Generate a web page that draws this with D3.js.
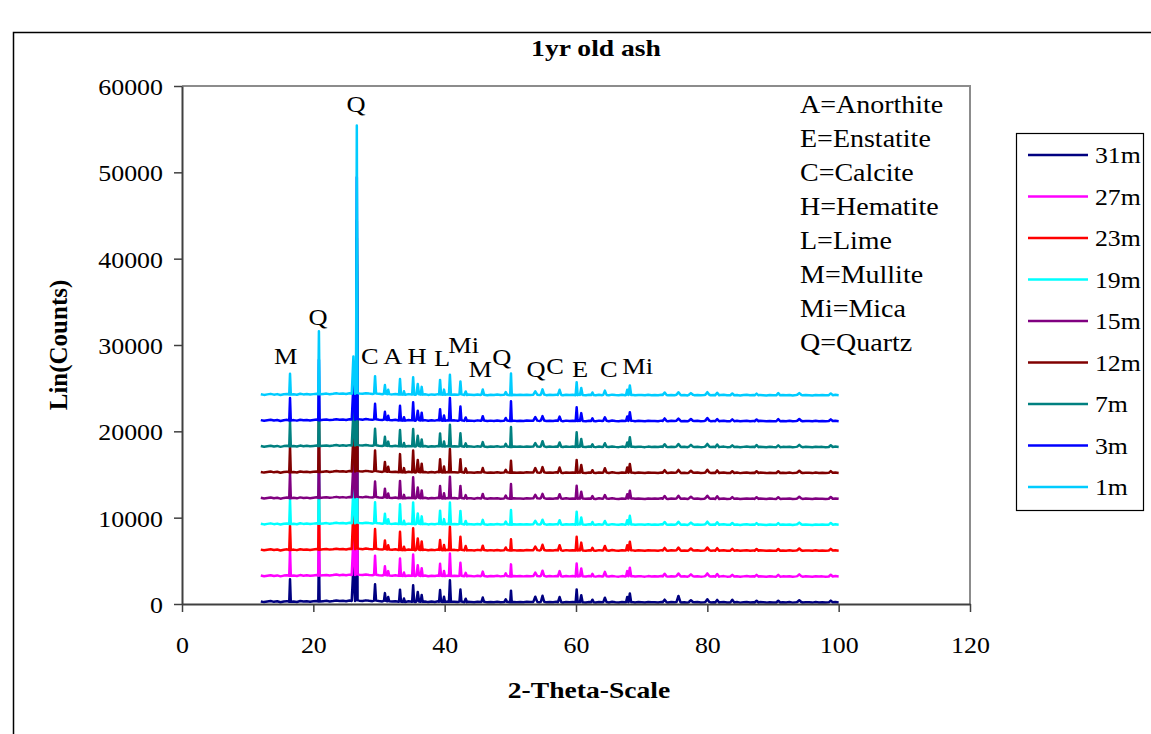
<!DOCTYPE html>
<html><head><meta charset="utf-8">
<script src="https://cdn.jsdelivr.net/npm/d3@7"></script>
<style>
body{margin:0;background:#fff;}
svg{display:block;}
text{font-family:"Liberation Serif","Times New Roman",serif;fill:#000;}
</style>
</head><body>
<svg id="c" width="1151" height="734"></svg>
<script>
// ---------------- DATA ----------------
const chartTitle = "1yr old ash";
const xTitle = "2-Theta-Scale";
const yTitle = "Lin(Counts)";
const xTicks = [0, 20, 40, 60, 80, 100, 120];
const yTicks = [0, 10000, 20000, 30000, 40000, 50000, 60000];

// series, in drawing order (last drawn on top)
const seriesNames = ["31m", "27m", "23m", "19m", "15m", "12m", "7m", "3m", "1m"];
const seriesOffsets = [0, 3000, 6000, 9000, 12000, 15000, 18000, 21000, 24000];

// background counts (above each series' offset), 2-theta 12 .. 100 every 0.5
const baseStart = 12, baseStep = 0.5;
const baseCounts = [
  300,220,280,340,250,310,200,290,330,260,300,240,350,280,320,260,310,360,290,330,
  370,300,350,410,340,380,320,400,360,430,390,350,420,370,330,390,340,300,360,310,
  280,330,260,300,240,310,270,230,290,250,300,220,280,240,310,260,230,290,250,270,
  230,280,210,260,240,200,270,220,250,190,240,210,260,200,230,250,190,240,210,230,
  200,250,220,180,240,210,260,190,230,200,250,210,180,240,200,230,190,250,210,180,
  230,200,170,240,190,220,180,250,200,170,230,190,210,240,180,220,200,170,230,190,
  210,180,240,200,170,220,190,230,180,210,160,230,190,220,170,200,240,180,210,170,
  200,230,170,210,180,220,160,200,230,180,210,170,220,190,160,210,180,230,170,200,
  180,220,160,200,230,170,210,190,160,220,180,200,170,210,190,230,180
];

// diffraction peaks: position (2-theta), half width (deg)
const peakTheta = [16.45,20.85,26.10,26.62,29.40,30.90,31.40,33.20,33.80,35.20,
                   35.90,36.50,39.30,39.90,40.80,42.40,43.20,45.80,49.30,50.10,
                   53.80,54.90,57.50,60.10,60.80,62.50,64.40,67.80,68.20,73.50,
                   75.60,77.50,80.00,81.50,83.80,87.50,90.80,94.00,98.80];
const peakHalfWidth = [0.12,0.10,0.25,0.12,0.15,0.15,0.15,0.15,0.15,0.15,
                       0.20,0.15,0.15,0.15,0.15,0.15,0.20,0.20,0.20,0.12,
                       0.30,0.25,0.25,0.15,0.20,0.20,0.25,0.18,0.20,0.30,
                       0.30,0.30,0.30,0.30,0.30,0.30,0.30,0.30,0.30];

// peak heights (counts above background) per series
const peaks31m = [2600,6000,4000,25000,1900,900,500,1400,400,1900,1100,800,1350,600,2500,1400,400,500,300,1350,600,700,600,1500,800,300,500,600,1000,300,700,200,300,300,300,200,200,200,200];
const peaks27m = [3000,6500,4300,27000,2200,1000,500,2000,400,2450,1200,900,1400,600,2600,1500,400,500,300,1400,400,600,600,1500,900,300,500,600,1000,300,300,200,300,300,200,200,200,200,200];
const peaks23m = [2800,6500,4500,27000,2300,1000,500,2100,400,2500,1300,1000,1150,600,2700,1500,500,500,300,1300,400,600,600,1600,900,300,500,600,1000,300,300,200,300,300,200,200,200,200,200];
const peaks19m = [2800,6800,4000,28000,2400,1100,500,2300,400,2500,1200,900,1550,600,2500,1500,400,500,300,1700,400,500,500,1500,800,300,400,500,1000,300,300,200,300,300,200,200,200,200,200];
const peaks15m = [3000,6500,4000,27000,1800,1000,500,2000,400,2400,1200,900,1400,600,2500,1400,400,500,300,1700,400,500,500,1500,800,300,400,500,900,300,300,200,300,300,200,200,200,200,200];
const peaks12m = [3000,6800,4200,27000,2400,1100,600,2100,500,2500,1400,1000,1500,700,2700,1500,500,500,300,1400,500,600,600,1500,900,300,500,600,1000,300,300,200,300,300,200,200,200,200,200];
const peaks7m  = [2900,6500,3800,26000,1900,1000,500,1900,400,2000,1200,800,1500,600,2500,1500,400,500,300,2300,400,600,500,1700,900,300,400,500,1100,300,300,200,300,300,200,250,200,200,200];
const peaks3m  = [2600,7000,4000,28000,1800,900,500,1700,400,2100,1100,900,1300,600,2600,1600,400,500,300,2300,400,500,500,1600,900,300,400,500,1000,300,250,200,300,250,200,200,250,200,200];
const peaks1m  = [2400,7300,4300,31000,2000,1000,500,1800,400,2000,1200,900,1700,600,2300,1500,400,600,300,2500,400,600,600,1500,800,300,500,600,1100,300,300,200,300,300,200,200,250,200,200];
const seriesPeaks = [peaks31m, peaks27m, peaks23m, peaks19m, peaks15m, peaks12m, peaks7m, peaks3m, peaks1m];

// phase labels (text, 2-theta, counts at label centre)
const phaseLabels = ["Q","Q","M","C","A","H","L","Mi","M","Q","Q","C","E","C","Mi"];
const phaseTheta  = [26.5,20.7,15.8,28.6,32.1,35.8,39.6,42.9,45.4,48.7,53.9,56.8,60.6,65.0,69.4];
const phaseCounts = [58000,33250,28730,28730,28730,28730,28500,30000,27220,28610,27220,27570,27220,27220,27570];

// key of phases
const phaseKey = ["A=Anorthite","E=Enstatite","C=Calcite","H=Hematite","L=Lime","M=Mullite","Mi=Mica","Q=Quartz"];

// ---------------- STYLE ----------------
const seriesColors = ["#000080","#ff00ff","#ff0000","#00ffff","#800080","#800000","#008080","#0000ff","#00ccff"];

const svg = d3.select("#c");
const x = d3.scaleLinear().domain([0, 120]).range([182, 970]);
const y = d3.scaleLinear().domain([0, 60000]).range([604, 86]);

function sText(g, px, py, str, size, sx, anchor, weight) {
  return g.append("text")
    .attr("transform", `translate(${px},${py}) scale(${sx},1)`)
    .attr("text-anchor", anchor || "start")
    .attr("dy", "0.35em")
    .attr("font-size", size)
    .attr("font-weight", weight || "normal")
    .text(str);
}

// outer chart border
svg.append("rect").attr("x", 13.5).attr("y", 32.5).attr("width", 1300).attr("height", 900)
  .attr("fill", "#fff").attr("stroke", "#000").attr("stroke-width", 1.5);

// plot frame (top and right)
svg.append("path").attr("d", `M${x(0)},${y(60000)}H${x(120)}V${y(0)}`)
  .attr("fill", "none").attr("stroke", "#8c8c8c").attr("stroke-width", 2);

// series lines
const line = d3.line().x(d => x(d[0])).y(d => y(d[1]));
seriesNames.forEach((name, i) => {
  const off = seriesOffsets[i], hts = seriesPeaks[i];
  const pts = [];
  baseCounts.forEach((c, j) => {
    const t = baseStart + j * baseStep;
    const inside = peakTheta.some((p, k) => t >= p - peakHalfWidth[k] && t <= p + peakHalfWidth[k]);
    if (!inside) pts.push([t, off + c]);
  });
  peakTheta.forEach((p, k) => {
    const j = Math.round((p - baseStart) / baseStep);
    const foot = off + baseCounts[j];
    const w = peakHalfWidth[k];
    pts.push([p - w, foot], [p, foot + hts[k]], [p + w, foot]);
  });
  pts.sort((a, b) => a[0] - b[0]);
  svg.append("path").datum(pts).attr("d", line)
    .attr("fill", "none").attr("stroke", seriesColors[i])
    .attr("stroke-width", 2.5).attr("stroke-linejoin", "round");
});

// axes
const axColor = "#404040";
const gx = svg.append("g").attr("transform", `translate(0,${y(0)})`)
  .call(d3.axisBottom(x).tickValues(xTicks).tickSize(8).tickSizeOuter(0).tickFormat(d3.format("d")));
gx.select(".domain").attr("stroke", axColor).attr("stroke-width", 2);
gx.selectAll(".tick line").attr("stroke", axColor).attr("stroke-width", 1.5);
gx.selectAll(".tick text").attr("font-family", null).attr("font-size", 24).attr("fill", "#000")
  .attr("y", null).attr("dy", "0.35em").attr("transform", "translate(0,41) scale(1.08,1)");

const gy = svg.append("g").attr("transform", `translate(${x(0)},0)`)
  .call(d3.axisLeft(y).tickValues(yTicks).tickSize(8).tickSizeOuter(0).tickFormat(d3.format("d")));
gy.select(".domain").attr("stroke", axColor).attr("stroke-width", 2);
gy.selectAll(".tick line").attr("stroke", axColor).attr("stroke-width", 1.5);
gy.selectAll(".tick text").attr("font-family", null).attr("font-size", 24).attr("fill", "#000")
  .attr("x", null).attr("dy", "0.35em").attr("transform", "translate(-19,0) scale(1.08,1)");

// titles
sText(svg, 596, 48, chartTitle, 24, 1.15, "middle", "bold");
sText(svg, 589, 690, xTitle, 24, 1.15, "middle", "bold");
svg.append("text").attr("transform", "translate(58,345) rotate(-90)")
  .attr("text-anchor", "middle").attr("dy", "0.35em")
  .attr("font-size", 25).attr("font-weight", "bold").text(yTitle);

// phase labels
phaseLabels.forEach((t, i) => {
  sText(svg, x(phaseTheta[i]), y(phaseCounts[i]), t, 24, 1.1, "middle");
});

// phase key
phaseKey.forEach((t, i) => {
  sText(svg, 800, 104 + i * 34.1, t, 25, 1.12, "start");
});

// legend
const lg = svg.append("g");
lg.append("rect").attr("x", 1016.5).attr("y", 133.5).attr("width", 127).attr("height", 377)
  .attr("fill", "#fff").attr("stroke", "#000").attr("stroke-width", 1.2);
seriesNames.forEach((n, i) => {
  const ly = 155 + i * 41.5;
  lg.append("line").attr("x1", 1028).attr("x2", 1088).attr("y1", ly).attr("y2", ly)
    .attr("stroke", seriesColors[i]).attr("stroke-width", 2.5);
  sText(lg, 1095, ly, n, 23, 1.12, "start");
});
</script>
</body></html>
